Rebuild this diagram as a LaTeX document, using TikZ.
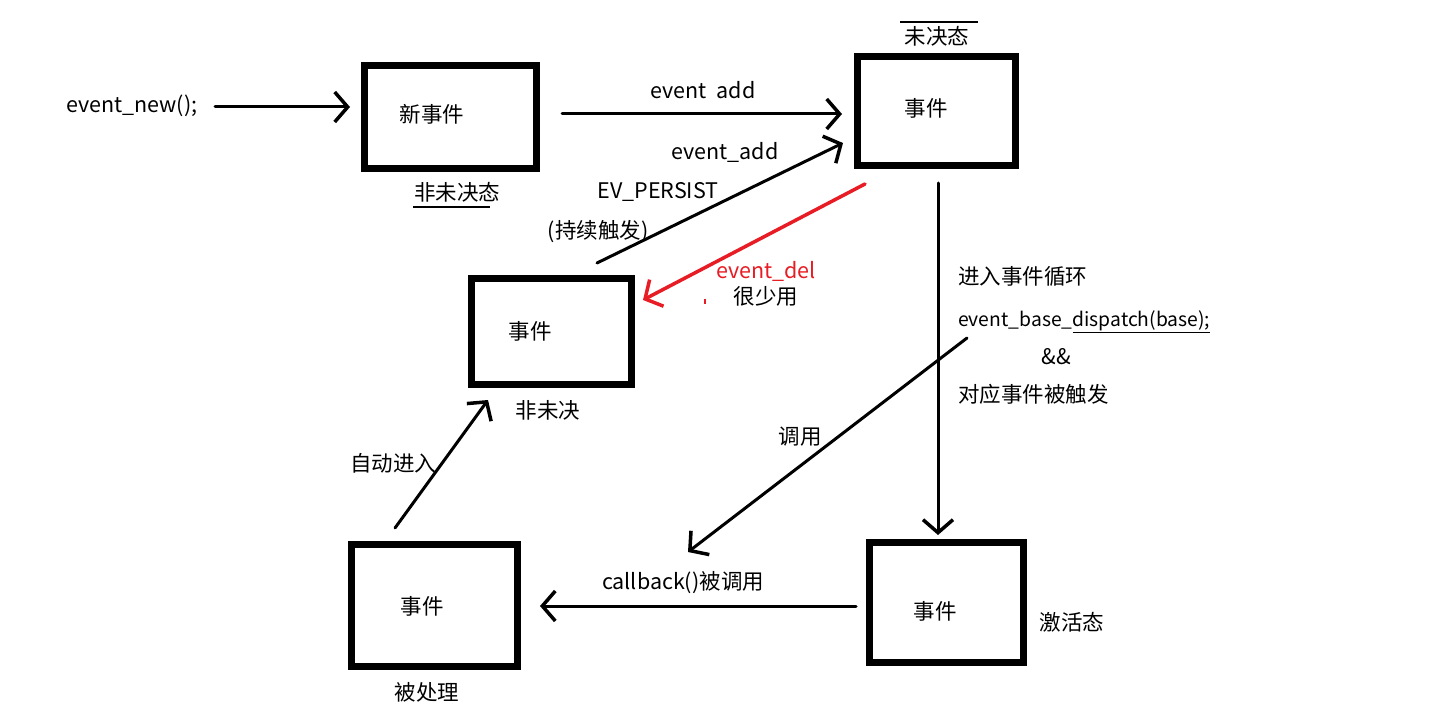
\documentclass[tikz,border=0pt]{standalone}
\usepackage{fontspec}
\setmainfont{Noto Sans CJK SC}
\usetikzlibrary{arrows.meta,calc}
\definecolor{redline}{RGB}{232,28,36}
\begin{document}
\begin{tikzpicture}[x=1pt,y=-1pt,
  box/.style={draw=black,line width=7pt,inner sep=0pt,fill=none},
  txt/.style={inner sep=0pt,font=\fontsize{21.5}{25}\selectfont,text height=1.3em,text depth=0em},
  arr/.style={line width=3pt,line cap=round,-{Straight Barb[length=13pt,width=30pt,line width=3.5pt]}},
  redarr/.style={arr,draw=redline,line width=3.5pt}]
\useasboundingbox[fill=white] (0,0) rectangle (1433,722);
% boxes
\node[box,minimum width=172pt,minimum height=103pt] (b1) at (450.5,117) {};
\node[box,minimum width=158pt,minimum height=109pt] (b2) at (936.5,111) {};
\node[box,minimum width=160pt,minimum height=106pt] (b3) at (551.5,331.5) {};
\node[box,minimum width=166pt,minimum height=122pt] (b4) at (434.5,605.5) {};
\node[box,minimum width=154pt,minimum height=120pt] (b5) at (946.5,602.5) {};
% box texts
\node[txt] (t1) at (432,116) {新事件};
\node[txt] (t2) at (926,110) {事件};
\node[txt] (t3) at (530,333) {事件};
\node[txt] (t4) at (422,608) {事件};
\node[txt] (t5) at (935,613) {事件};
% state labels
\node[txt] (l1) at (457,194) {非未决态};
\node[txt] (l2) at (937,38) {未决态};
\node[txt] (l3) at (548,412) {非未决};
\node[txt] (l4) at (427,694) {被处理};
\node[txt] (l5) at (1072,624) {激活态};
\draw[line width=1.5pt] ($(l1.center)+(-44,13)$) -- ($(l1.center)+(33,13)$);
\draw[line width=1.5pt] ($(l2.center)+(-37,-16)$) -- ($(l2.center)+(41,-16)$);
% other labels
\node[txt,anchor=west] (evnew) at (66,106) {event\_new();};
\node[txt] (ea1) at (703,92) {event\ \ add};
\node[txt] (ea2) at (725,153) {event\_add};
\node[txt] (evp) at (658,192) {EV\_PERSIST};
\node[txt] (chx) at (598,232) {(持续触发)};
\node[txt,text=redline] (edel) at (766,272) {event\_del};
\node[txt] (hsy) at (766,298) {很少用};
\node[txt,anchor=west] (loop1) at (958,278) {进入事件循环};
\node[txt,anchor=west,font=\fontsize{19.3}{23}\selectfont] (loop2) at (958,320) {event\_base\_\underline{dispatch(base);}};
\node[txt] (loop3) at (1056,358) {\&\&};
\node[txt,anchor=west] (loop4) at (958,396) {对应事件被触发};
\node[txt] (dy) at (800,438) {调用};
\node[txt] (zdjr) at (393,465) {自动进入};
\node[txt] (cb) at (683,583) {callback()被调用};
% connectors
\draw[arr] ($(b1.west)+(-146,-10)$) -- ($(b1.west)+(-11,-10)$);
\draw[arr] ($(b1.east)+(22,-3)$) -- ($(b2.west)+(-12,3)$);
\draw[arr] ($(b3.north)+(45.5,-12)$) -- ($(b2.west)+(-11,32)$);
\draw[redarr] ($(b2.south)+(-71.5,15)$) -- ($(b3.east)+(8,-31.5)$);
\draw[redline,line width=2pt] ($(b3.east)+(70,-33)$) -- ($(b3.east)+(70,-28)$);
\draw[arr] ($(b2.south)+(1.5,14)$) -- ($(b5.north)+(-8.5,-4)$);
\draw[arr] ($(b5.north)+(20.5,-201)$) -- ($(b4.east)+(167,-53.5)$);
\draw[arr] ($(b5.west)+(-10,3.5)$) -- ($(b4.east)+(19,0.5)$);
\draw[arr] ($(b4.north)+(-39.5,-13)$) -- ($(b3.south)+(-63.5,12)$);
\end{tikzpicture}
\end{document}
